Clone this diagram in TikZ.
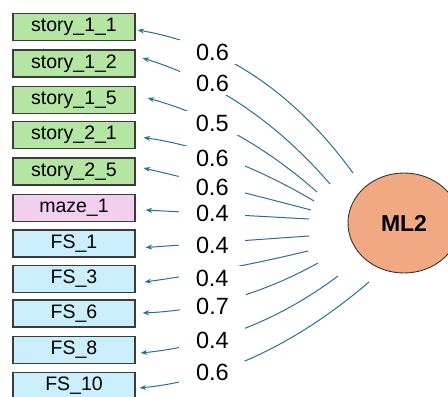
\documentclass[tikz,border=0pt]{standalone}
\usepackage{fontspec}
\setmainfont{Liberation Sans}
\usetikzlibrary{calc,shapes.geometric,arrows.meta}
\definecolor{gfill}{HTML}{B4E5A2}
\definecolor{pfill}{HTML}{F2CEEF}
\definecolor{bfill}{HTML}{CAEEFB}
\definecolor{ofill}{HTML}{F1A983}
\definecolor{edgec}{HTML}{2A6F93}
\definecolor{boxline}{HTML}{3C3C3C}
\begin{document}
\begin{tikzpicture}[x=1pt,y=-1pt,
  var/.style={draw=boxline, line width=1.2pt, minimum width=122pt, minimum height=27pt,
              inner sep=0pt, font=\fontsize{19.5}{20}\selectfont},
  story/.style={var, fill=gfill},
  maze/.style={var, fill=pfill},
  fs/.style={var, fill=bfill},
  latent/.style={ellipse, draw=black!80, line width=0.9pt, fill=ofill, minimum width=112pt,
                 minimum height=100pt, inner sep=0pt, font=\bfseries\fontsize{23}{24}\selectfont},
  edge/.style={draw=edgec, line width=1pt, -{Stealth[length=6.5pt,width=5pt]}},
  lbl/.style={fill=white, minimum width=66pt, minimum height=24pt, inner sep=0pt,
              font=\fontsize{23.5}{24}\selectfont}]
\useasboundingbox (0,0) rectangle (448,397);
\clip (0,0) rectangle (448,397);

\node[story] (s11) at (74,27)    {story\_1\_1};
\node[story] (s12) at (74,63.5)  {story\_1\_2};
\node[story] (s15) at (74,100)   {story\_1\_5};
\node[story] (s21) at (74,135)   {story\_2\_1};
\node[story] (s25) at (74,171.5) {story\_2\_5};
\node[maze]  (mz1) at (74,208)   {maze\_1};
\node[fs]    (f1)  at (74,243.5) {FS\_1};
\node[fs]    (f3)  at (74,279)   {FS\_3};
\node[fs]    (f6)  at (74,313.5) {FS\_6};
\node[fs]    (f8)  at (74,350)   {FS\_8};
\node[fs]    (f10) at (74,386)   {FS\_10};

\node[latent] (ml2) at (404,223) {ML2};

\draw[edge] ($(ml2.center)+(-51,-50)$) .. controls +(-58.7,-80.7) and +(85.3,14.7) .. ($(s11.east)+(2,3)$)
  node[lbl,pos=.692,yshift=1pt] {0.6};
\draw[edge] ($(ml2.center)+(-74,-39)$) .. controls +(-52.7,-61.3) and +(72.7,22.7) .. ($(s12.east)+(7,-5.5)$)
  node[lbl,pos=.663,yshift=4.5pt] {0.6};
\draw[edge] ($(ml2.center)+(-87,-31)$) .. controls +(-51.3,-45.3) and +(62,17.3) .. ($(s15.east)+(12,-2)$)
  node[lbl,pos=.64,yshift=-1.3pt] {0.5};
\draw[edge] ($(ml2.center)+(-90,-22)$) .. controls +(-57.3,-34) and +(56.7,8.3) .. ($(s21.east)+(8,2.5)$)
  node[lbl,pos=.595,yshift=-4.5pt] {0.6};
\draw[edge] ($(ml2.center)+(-93,-13)$) .. controls +(-56,-14.7) and +(56,13.3) .. ($(s25.east)+(8,-3.5)$)
  node[lbl,pos=.59,yshift=-2.3pt] {0.6};
\draw[edge] ($(ml2.center)+(-95,-4)$) -- ($(mz1.east)+(10,2)$)
  node[lbl,pos=.591] {0.4};
\draw[edge] ($(ml2.center)+(-95,13)$) -- ($(f1.east)+(10,4)$)
  node[lbl,pos=.591,yshift=-2.2pt] {0.4};
\draw[edge] ($(ml2.center)+(-96,28)$) .. controls +(-54,13) and +(55.3,-7.7) .. ($(f3.east)+(9,3)$)
  node[lbl,pos=.59,yshift=-6.8pt] {0.4};
\draw[edge] ($(ml2.center)+(-86,40)$) .. controls +(-55.3,30.7) and +(62,-2.7) .. ($(f6.east)+(7,-0.5)$)
  node[lbl,pos=.615,yshift=-2.3pt] {0.7};
\draw[edge] ($(ml2.center)+(-66,53)$) .. controls +(-58.7,44) and +(73.3,-7.3) .. ($(f8.east)+(5,3)$)
  node[lbl,pos=.661,yshift=-0.8pt] {0.4};
\draw[edge] ($(ml2.center)+(-35,59)$) .. controls +(-73.3,62.7) and +(80,-8) .. ($(f10.east)+(4,2)$)
  node[lbl,pos=.692] {0.6};
\end{tikzpicture}
\end{document}
